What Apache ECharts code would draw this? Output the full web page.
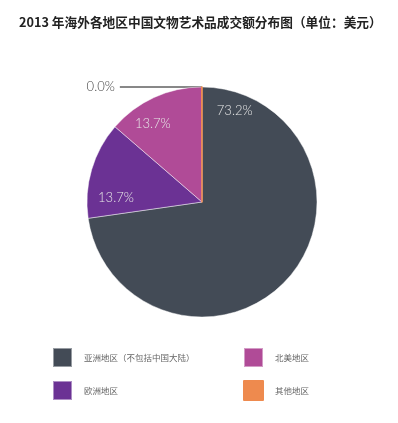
<!DOCTYPE html>
<html>
<head>
<meta charset="utf-8">
<script src="https://cdn.jsdelivr.net/npm/echarts@6/dist/echarts.min.js"></script>
<style>
html,body{margin:0;padding:0;background:#fff;}
#chart{width:398px;height:423px;}
</style>
</head>
<body>
<div id="chart"></div>
<script>
var titleText = '2013 年海外各地区中国文物艺术品成交额分布图（单位：美元）';
var regions = ['亚洲地区（不包括中国大陆）', '欧洲地区', '北美地区', '其他地区'];
var shares = [73.2, 13.7, 13.7, 0.04];
var colors = ['#434b56', '#6b3294', '#b04b97', '#ee8a4e'];
var labelShift = [[-13, -131], [-28, 13], [-24, -23], [0, 0]];

var chart = echarts.init(document.getElementById('chart'), null, {renderer: 'canvas'});
var data = regions.map(function (name, i) {
  var item = {name: name, value: shares[i], itemStyle: {color: colors[i]}};
  if (i === 3) {
    item.itemStyle.borderColor = colors[i];
    item.itemStyle.borderWidth = 1.5;
    item.label = {
      position: 'outside', color: '#444', fontSize: 13,
      fontFamily: 'Lato', fontWeight: 300
    };
    item.labelLine = {show: true, length: 0, length2: 82, lineStyle: {color: '#111', width: 1}};
  }
  return item;
});

var legendBase = {
  orient: 'vertical', top: 347, itemWidth: 19, itemHeight: 19, itemGap: 12,
  padding: 0,
  icon: 'rect',
  textStyle: {color: '#666', fontSize: 8.5, fontFamily: 'Noto Sans CJK SC', padding: [0, 0, 0, 7]}
};

chart.setOption({
  animation: false,
  title: {
    text: titleText, left: 14, top: 11,
    textStyle: {fontSize: 12.7, fontWeight: 'bold', color: '#222', fontFamily: 'Noto Sans CJK SC'}
  },
  legend: [
    Object.assign({}, legendBase, {left: 52, data: [regions[0], regions[1]]}),
    Object.assign({}, legendBase, {left: 243, data: [regions[2], regions[3]]})
  ],
  series: [{
    type: 'pie',
    center: [202, 202],
    radius: [0, 115],
    startAngle: 90,
    clockwise: true,
    avoidLabelOverlap: false,
    itemStyle: {borderColor: 'rgba(255,255,255,0.45)', borderWidth: 1},
    label: {
      show: true, position: 'inside', color: '#e6e6e6', fontSize: 13,
      fontFamily: 'Lato', fontWeight: 300,
      formatter: function (p) { return p.value.toFixed(1) + '%'; }
    },
    labelLine: {show: false},
    labelLayout: function (p) {
      var s = labelShift[p.dataIndex];
      return {dx: s[0], dy: s[1]};
    },
    data: data
  }]
});
</script>
</body>
</html>
